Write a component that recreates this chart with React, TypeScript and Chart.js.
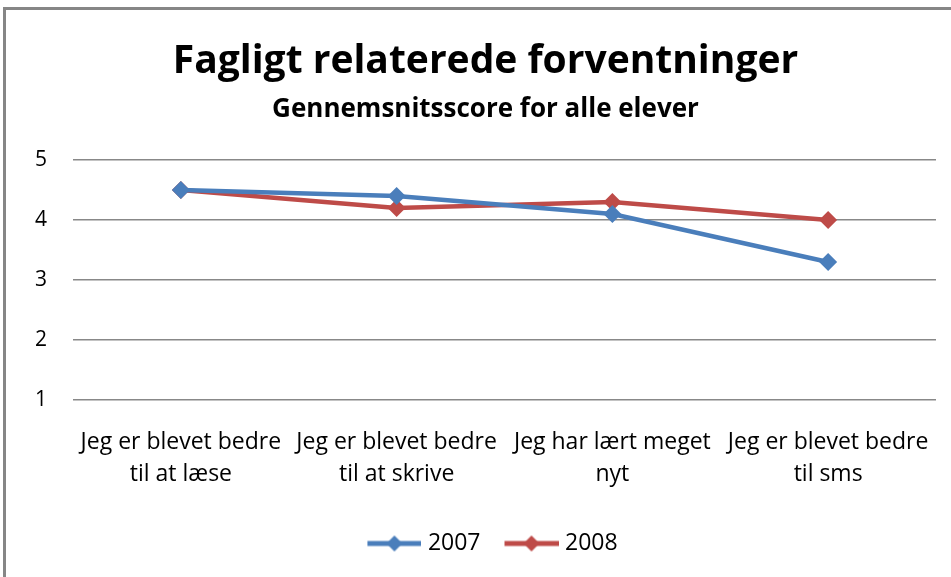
import React, { useEffect, useRef } from 'react';
import { Chart, registerables } from 'chart.js';
Chart.register(...registerables);

const TITLE = 'Fagligt relaterede forventninger';
const SUBTITLE = 'Gennemsnitsscore for alle elever';
const categories: string[][] = [
  ['Jeg er blevet bedre', 'til at læse'],
  ['Jeg er blevet bedre', 'til at skrive'],
  ['Jeg har lært meget', 'nyt'],
  ['Jeg er blevet bedre', 'til sms'],
];
const seriesNames = ['2007', '2008'];
const values2007 = [4.5, 4.4, 4.1, 3.3];
const values2008 = [4.5, 4.2, 4.3, 4.0];
const yMin = 1;
const yMax = 5;
const yStep = 1;

const BLUE = '#4A7EBB';
const RED = '#BE4B48';
const FONT = "'Open Sans', 'Noto Sans', sans-serif";

// legend icon: line with a diamond, placed in the right part of a wider image
const ICON_BOX = 63;
function legendIcon(color: string): HTMLCanvasElement {
  const c = document.createElement('canvas');
  c.width = ICON_BOX + 10;
  c.height = 18;
  const ctx = c.getContext('2d')!;
  const x0 = 19;
  const x1 = 73;
  ctx.strokeStyle = color;
  ctx.lineWidth = 5;
  ctx.lineCap = 'butt';
  ctx.beginPath();
  ctx.moveTo(x0, 9);
  ctx.lineTo(x1, 9);
  ctx.stroke();
  const cx = (x0 + x1) / 2;
  ctx.fillStyle = color;
  ctx.beginPath();
  ctx.moveTo(cx, 1);
  ctx.lineTo(cx + 8, 9);
  ctx.lineTo(cx, 17);
  ctx.lineTo(cx - 8, 9);
  ctx.closePath();
  ctx.fill();
  return c;
}

export default function App() {
  const ref = useRef<HTMLCanvasElement>(null);
  useEffect(() => {
    document.body.style.margin = '0';
    const icons = [legendIcon(BLUE), legendIcon(RED)];
    const chart = new Chart(ref.current!, {
      type: 'line',
      data: {
        labels: categories,
        datasets: [
          {
            label: seriesNames[0],
            data: values2007,
            borderColor: BLUE,
            backgroundColor: BLUE,
            borderWidth: 4.5,
            pointStyle: 'rectRot',
            pointRadius: 9,
            pointBackgroundColor: BLUE,
            pointBorderColor: BLUE,
            pointBorderWidth: 0,
            tension: 0,
          },
          {
            label: seriesNames[1],
            data: values2008,
            borderColor: RED,
            backgroundColor: RED,
            borderWidth: 4.5,
            pointStyle: 'rectRot',
            pointRadius: 9,
            pointBackgroundColor: RED,
            pointBorderColor: RED,
            pointBorderWidth: 0,
            tension: 0,
          },
        ],
      },
      options: {
        animation: false,
        responsive: false,
        maintainAspectRatio: false,
        layout: { padding: { left: 35, right: 15, top: 0, bottom: 12 } },
        plugins: {
          title: {
            display: true,
            text: TITLE,
            color: '#000',
            font: { family: FONT, size: 39, weight: 'bold', lineHeight: 1.2 },
            padding: { top: 38, bottom: 0 },
          },
          subtitle: {
            display: true,
            text: SUBTITLE,
            color: '#000',
            font: { family: FONT, size: 26, weight: 'bold', lineHeight: 1.2 },
            padding: { top: 9, bottom: 35 },
          },
          legend: {
            display: true,
            position: 'bottom',
            labels: {
              usePointStyle: true,
              pointStyleWidth: ICON_BOX,
              color: '#000',
              font: { family: FONT, size: 23 },
              padding: 10,
              generateLabels: (ch: any) =>
                ch.data.datasets.map((ds: any, i: number) => ({
                  text: ds.label,
                  pointStyle: icons[i],
                  fillStyle: ds.borderColor,
                  strokeStyle: ds.borderColor,
                  lineWidth: 0,
                  hidden: false,
                  datasetIndex: i,
                  fontColor: '#000',
                })),
            },
          },
          tooltip: { enabled: false },
        },
        scales: {
          x: {
            offset: true,
            grid: { display: false, drawTicks: false },
            border: { display: false },
            ticks: {
              color: '#000',
              font: { family: FONT, size: 23, lineHeight: 1.37 },
              padding: 27,
              maxRotation: 0,
              autoSkip: false,
            },
            afterFit: (scale: any) => {
              scale.height += 5;
              scale.paddingLeft = 0;
              scale.paddingRight = 0;
            },
          },
          y: {
            min: yMin,
            max: yMax,
            ticks: {
              stepSize: yStep,
              color: '#000',
              font: { family: FONT, size: 21 },
              padding: 26,
            },
            grid: { color: '#888888', lineWidth: 1.6, drawTicks: false },
            border: { display: false },
            afterFit: (scale: any) => {
              scale.width = 38;
            },
          },
        },
      },
    });
    return () => chart.destroy();
  }, []);

  return (
    <div style={{ position: 'relative', width: 951, height: 577, overflow: 'hidden', background: '#fff' }}>
      <canvas ref={ref} width={951} height={577} style={{ position: 'absolute', left: 0, top: 0 }} />
      <div
        style={{
          position: 'absolute',
          left: 3,
          top: 7,
          width: 1000,
          height: 1000,
          border: '3px solid #868686',
          pointerEvents: 'none',
        }}
      />
    </div>
  );
}
